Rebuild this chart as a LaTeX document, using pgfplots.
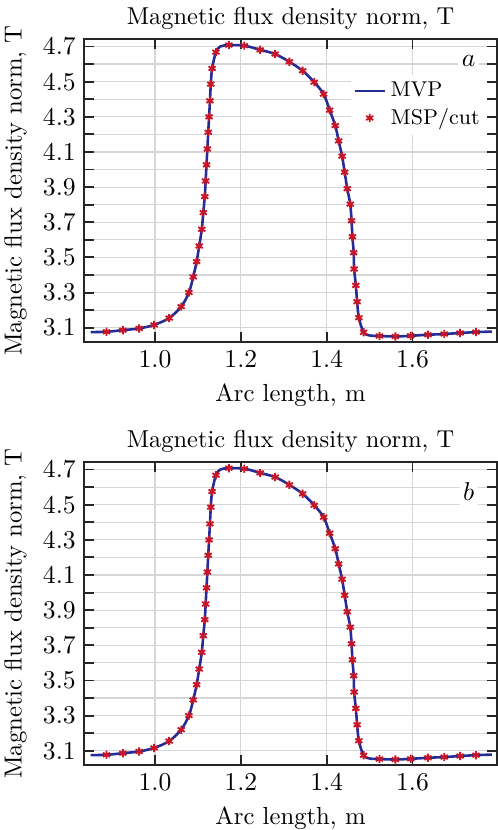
\documentclass[border=0pt]{standalone}
\usepackage{pgfplots}
\pgfplotsset{compat=1.18}
\usepackage{pgfplotstable}
\definecolor{mvp}{RGB}{38,44,150}
\definecolor{msp}{RGB}{200,22,38}

\pgfplotstableread{
x y
0.850 3.075
0.887 3.077
0.925 3.086
0.963 3.096
0.998 3.116
1.033 3.155
1.061 3.220
1.079 3.300
1.089 3.389
1.097 3.476
1.103 3.565
1.109 3.660
1.1125 3.755
1.116 3.846
1.118 3.935
1.120 4.027
1.122 4.117
1.124 4.212
1.126 4.300
1.128 4.391
1.130 4.486
1.133 4.575
1.142 4.668
1.152 4.700
1.172 4.708
1.208 4.705
1.245 4.681
1.280 4.657
1.313 4.613
1.344 4.562
1.371 4.497
1.393 4.429
1.407 4.338
1.420 4.250
1.428 4.163
1.436 4.076
1.442 3.985
1.448 3.891
1.455 3.803
1.458 3.709
1.460 3.618
1.463 3.527
1.464 3.434
1.468 3.341
1.471 3.248
1.475 3.157
1.486 3.074
1.500 3.056
1.523 3.053
1.560 3.050
1.596 3.054
1.636 3.060
1.674 3.064
1.711 3.070
1.748 3.075
1.785 3.078
}\lineA

\pgfplotstableread{
x y
0.887 3.077
0.925 3.086
0.963 3.096
0.998 3.116
1.033 3.155
1.061 3.220
1.079 3.300
1.089 3.389
1.097 3.476
1.103 3.565
1.109 3.660
1.1125 3.755
1.116 3.846
1.118 3.935
1.120 4.027
1.122 4.117
1.124 4.212
1.126 4.300
1.128 4.391
1.130 4.486
1.133 4.575
1.142 4.668
1.172 4.708
1.208 4.705
1.245 4.681
1.280 4.657
1.313 4.613
1.344 4.562
1.371 4.497
1.393 4.429
1.407 4.338
1.420 4.250
1.428 4.163
1.436 4.076
1.442 3.985
1.448 3.891
1.455 3.803
1.458 3.709
1.460 3.618
1.463 3.527
1.464 3.434
1.468 3.341
1.471 3.248
1.475 3.157
1.486 3.074
1.523 3.053
1.560 3.050
1.596 3.054
1.636 3.060
1.674 3.064
1.711 3.070
1.748 3.075
}\markA

\pgfplotsset{
  myax/.style={
    width=175.74pt, height=128.85pt, scale only axis,
    xmin=0.8345, xmax=1.797, ymin=3.019, ymax=4.742,
    xtick={1.0,1.2,1.4,1.6},
    xticklabels={1.0,1.2,1.4,1.6},
    ytick={3.1,3.2,3.3,3.4,3.5,3.6,3.7,3.8,3.9,4.0,4.1,4.2,4.3,4.4,4.5,4.6,4.7},
    yticklabels={3.1,,3.3,,3.5,,3.7,,3.9,,4.1,,4.3,,4.5,,4.7},
    tick label style={font=\fontsize{10.9}{12}\selectfont},
    label style={font=\fontsize{10.5}{12}\selectfont},
    grid=major,
    grid style={line width=0.5pt, draw=black!16},
    axis line style={line width=0.8pt, black!85},
    major tick style={line width=0.8pt, black!85},
    major tick length=4.3pt,
    title={Magnetic flux density norm, T},
    title style={font=\fontsize{10.4}{12}\selectfont, yshift=-5.5pt},
    xlabel={Arc length, m},
    ylabel={Magnetic flux density norm, T},
  },
  mvpline/.style={color=mvp, line width=1.1pt, smooth, tension=0.5, no markers,
    legend image code/.code={\draw[##1] (0cm,0cm) -- (12.8pt,0cm);}},
  mspmark/.style={only marks, mark=asterisk, mark size=1.75pt, color=msp,
    mark options={line width=0.8pt},
    legend image code/.code={\draw[##1] plot coordinates {(6.4pt,0cm)};}},
}

\begin{document}
\begin{tikzpicture}
\begin{axis}[myax, at={(0,180pt)}, anchor=south west,
  legend style={at={(0.976,0.883)}, anchor=north east, draw=none, fill=white,
    inner sep=1pt, font=\fontsize{9.1}{11}\selectfont,
    nodes={inner sep=2pt}, row sep=-0.6pt},
  legend cell align=left]
  \addplot[mvpline] table[x=x,y=y] {\lineA};
  \addlegendentry{MVP}
  \addplot[mspmark] table[x=x,y=y] {\markA};
  \addlegendentry{MSP/cut}
  \node[fill=white, inner sep=1.5pt, font=\fontsize{11}{12}\selectfont] at (axis cs:1.731,4.619) {$a$};
\end{axis}
\begin{axis}[myax, at={(0,0)}, anchor=south west]
  \addplot[mvpline] table[x=x,y=y] {\lineA};
  \addplot[mspmark] table[x=x,y=y] {\markA};
  \node[fill=white, inner sep=1.5pt, font=\fontsize{11}{12}\selectfont] at (axis cs:1.731,4.572) {$b$};
\end{axis}
\pgfresetboundingbox
\path[use as bounding box] (-35.74pt,-27.66pt) rectangle (175.74pt,325.5pt);
\end{tikzpicture}
\end{document}
